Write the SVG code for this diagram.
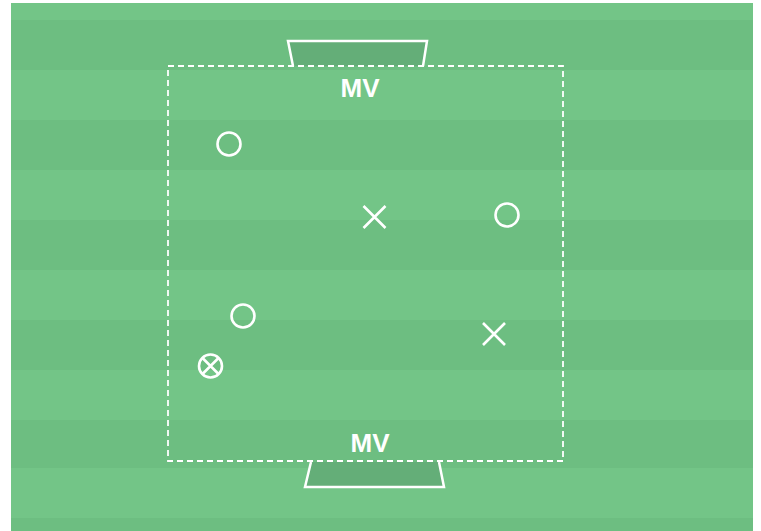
<svg xmlns="http://www.w3.org/2000/svg" width="761" height="531" viewBox="0 0 761 531">
<style>
.light{fill:#73c587}
.dark{fill:#6dbe81}
.goal{fill:#64ae78;stroke:#ffffff;stroke-width:2.5;stroke-linejoin:miter}
.pl{fill:none;stroke:#ffffff;stroke-width:2.6}
.lbl{font-family:"Liberation Sans",Arial,sans-serif;font-weight:bold;font-size:26px;fill:#ffffff;text-anchor:middle}
.area{fill:none;stroke:#ffffff;stroke-width:1.8;stroke-dasharray:6 4}
</style>
<rect width="761" height="531" fill="#ffffff"/>
<g id="field">
<rect class="light" x="11" y="3" width="742" height="528"/>
<rect class="dark" x="11" y="20" width="742" height="50"/>
<rect class="dark" x="11" y="120" width="742" height="50"/>
<rect class="dark" x="11" y="220" width="742" height="50"/>
<rect class="dark" x="11" y="320" width="742" height="50"/>
<rect class="dark" x="11" y="420" width="742" height="48"/>
<rect class="dark" x="11" y="518" width="742" height="13"/>
</g>
<g id="goal-top">
<path class="goal" d="M293,66 L288,41 L427,41 L423,66"/>
</g>
<g id="goal-bottom">
<path class="goal" d="M311,462 L305,487 L444,487 L439,462"/>
</g>
<g id="area">
<rect class="area" x="168" y="66" width="395" height="395"/>
</g>
<g id="label-top"><text class="lbl" x="360" y="97">MV</text></g>
<g id="label-bottom"><text class="lbl" x="370" y="452">MV</text></g>
<g id="o1"><circle class="pl" cx="229" cy="144" r="11.5"/></g>
<g id="o2"><circle class="pl" cx="507" cy="215" r="11.5"/></g>
<g id="o3"><circle class="pl" cx="243" cy="316" r="11.5"/></g>
<g id="ox"><circle class="pl" cx="210.5" cy="366" r="11.5"/><path class="pl" d="M202.5,358 L218.5,374 M218.5,358 L202.5,374"/></g>
<g id="x1"><path class="pl" d="M363.5,206 L385.5,228 M385.5,206 L363.5,228"/></g>
<g id="x2"><path class="pl" d="M483,323 L505,345 M505,323 L483,345"/></g>
<g id="connectors"></g>
</svg>
